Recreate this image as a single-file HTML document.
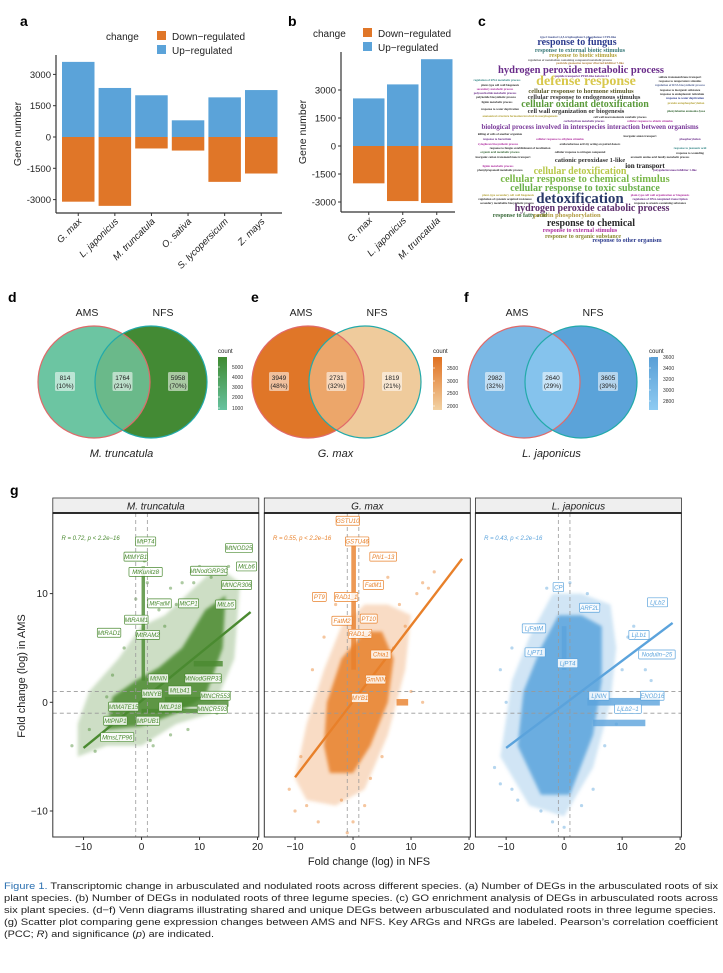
<!DOCTYPE html>
<html><head><meta charset="utf-8">
<style>
html,body{margin:0;padding:0;background:#fff;}
svg{display:block;font-family:"Liberation Sans",sans-serif;}
.wc{font-family:"Liberation Serif",serif;font-weight:bold;text-anchor:middle;}
.tick{font-size:9px;fill:#222;}
</style></head>
<body>
<svg id="fig" width="723" height="973" viewBox="0 0 723 973" xmlns="http://www.w3.org/2000/svg">
<defs>
<linearGradient id="gd" x1="0" y1="0" x2="0" y2="1"><stop offset="0" stop-color="#3f8a30"/><stop offset="1" stop-color="#66c2a0"/></linearGradient>
<linearGradient id="ge" x1="0" y1="0" x2="0" y2="1"><stop offset="0" stop-color="#e07020"/><stop offset="1" stop-color="#f2d2a4"/></linearGradient>
<linearGradient id="gf" x1="0" y1="0" x2="0" y2="1"><stop offset="0" stop-color="#5a9fd6"/><stop offset="1" stop-color="#8ecbf2"/></linearGradient>
<filter id="blur"><feGaussianBlur stdDeviation="1.6"/></filter>
</defs>

<!-- panel labels -->
<text x="20" y="26" font-size="14" font-weight="bold">a</text>
<text x="288" y="26" font-size="14" font-weight="bold">b</text>
<text x="478" y="26" font-size="14" font-weight="bold">c</text>
<text x="8" y="302" font-size="14" font-weight="bold">d</text>
<text x="251" y="302" font-size="14" font-weight="bold">e</text>
<text x="464" y="302" font-size="14" font-weight="bold">f</text>
<text x="10" y="495" font-size="14" font-weight="bold">g</text>

<g id="barA"></g>
<g id="barB"></g>

<!-- legends a & b -->
<g font-size="10">
<text x="106" y="40" fill="#222">change</text>
<rect x="157" y="31" width="9" height="9" fill="#e07628"/>
<text x="172" y="40" fill="#222">Down−regulated</text>
<rect x="157" y="45" width="9" height="9" fill="#5ba3d9"/>
<text x="172" y="54" fill="#222">Up−regulated</text>
</g>
<g font-size="10">
<text x="313" y="37" fill="#222">change</text>
<rect x="363" y="28" width="9" height="9" fill="#e07628"/>
<text x="378" y="37" fill="#222">Down−regulated</text>
<rect x="363" y="42" width="9" height="9" fill="#5ba3d9"/>
<text x="378" y="51" fill="#222">Up−regulated</text>
</g>

<!-- word cloud -->
<g id="cloud"></g>

<g id="venns"></g>

<g id="scatter"></g>

<!-- caption -->
<g font-size="9.3" fill="#222" font-family="'Liberation Sans Narrow','Liberation Sans',sans-serif">
<text x="4" y="889" textLength="714" lengthAdjust="spacingAndGlyphs"><tspan fill="#2a6fb0">Figure 1.</tspan> Transcriptomic change in arbusculated and nodulated roots across different species. (a) Number of DEGs in the arbusculated roots of six</text>
<text x="4" y="901" textLength="714" lengthAdjust="spacingAndGlyphs">plant species. (b) Number of DEGs in nodulated roots of three legume species. (c) GO enrichment analysis of DEGs in arbusculated roots across</text>
<text x="4" y="913" textLength="712" lengthAdjust="spacingAndGlyphs">six plant species. (d−f) Venn diagrams illustrating shared and unique DEGs between arbusculated and nodulated roots in three legume species.</text>
<text x="4" y="925" textLength="714" lengthAdjust="spacingAndGlyphs">(g) Scatter plot comparing gene expression changes between AMS and NFS. Key ARGs and NRGs are labeled. Pearson’s correlation coefficient</text>
<text x="4" y="937" textLength="210" lengthAdjust="spacingAndGlyphs">(PCC; <tspan font-style="italic">R</tspan>) and significance (<tspan font-style="italic">p</tspan>) are indicated.</text>
</g>
</svg>

<script>
const NS="http://www.w3.org/2000/svg";
function mk(tag,attrs,parent,txt){const e=document.createElementNS(NS,tag);for(const k in attrs)e.setAttribute(k,attrs[k]);if(txt!==undefined)e.textContent=txt;parent.appendChild(e);return e;}

// ---------- Panel a / b data ----------
const speciesA=["G. max","L. japonicus","M. truncatula","O. sativa","S. lycopersicum","Z. mays"];
const upA=[3600,2350,2000,800,1900,2250];
const downA=[-3100,-3300,-550,-650,-2150,-1750];
const ticksAB=[3000,1500,0,-1500,-3000];
const speciesB=["G. max","L. japonicus","M. truncatula"];
const upB=[2550,3300,4650];
const downB=[-2000,-2950,-3050];

function barChart(g,cats,up,down,o){
  const y=v=>o.y0-v*o.ppu;
  mk('line',{x1:o.ax,y1:o.top,x2:o.ax,y2:o.bot,stroke:'#333','stroke-width':1.2},g);
  mk('line',{x1:o.ax,y1:o.bot,x2:o.right,y2:o.bot,stroke:'#333','stroke-width':1.2},g);
  ticksAB.forEach(t=>{
    const tk=mk('line',{x1:o.ax-3,y1:y(t),x2:o.ax,y2:y(t),stroke:'#333'},g);
    const lb=mk('text',{x:o.ax-5,y:y(t)+3.5,'text-anchor':'end','font-size':9.5,fill:'#222'},g,t===0?'0':(t<0?'-'+Math.abs(t):String(t)));
    
    
  });
  const t=mk('text',{x:0,y:0,'font-size':10.5,fill:'#222','text-anchor':'middle',transform:`translate(${o.ax-35},${(o.top+o.bot)/2}) rotate(-90)`},g,'Gene number');
  
  
  cats.forEach((c,i)=>{
    const x=o.x0+i*o.step;
    const bu=mk('rect',{x:x,y:y(up[i]),width:o.bw,height:y(0)-y(up[i]),fill:'#5ba3d9'},g);
    
    
    const bd=mk('rect',{x:x,y:y(0),width:o.bw,height:y(down[i])-y(0),fill:'#e07628'},g);
    
    
    const cx=x+o.bw/2;
    mk('line',{x1:cx,y1:o.bot,x2:cx,y2:o.bot+3,stroke:'#333'},g);
    const l=mk('text',{x:0,y:0,'font-size':9.5,'font-style':'italic',fill:'#222','text-anchor':'end',transform:`translate(${cx+4},${o.bot+9}) rotate(-45)`},g,c);
    
    
  });
}
barChart(document.getElementById('barA'),speciesA,upA,downA,{ax:56,top:55,bot:213,right:282,y0:137,ppu:31.3/1500,x0:62,step:36.6,bw:32.5});
barChart(document.getElementById('barB'),speciesB,upB,downB,{ax:341,top:52,bot:212,right:455,y0:146,ppu:28/1500,x0:353,step:34,bw:31.5});

// ---------- Word cloud ----------
const cloudWords=[
 ["response to fungus",577,45,10,"#2d3c8e"],
 ["response to external biotic stimulus",580,52,6,"#3a7a7a"],
 ["response to biotic stimulus",583,57,6,"#b5a33a"],
 ["hydrogen peroxide metabolic process",581,73,10.5,"#6a2c8a"],
 ["defense response",586,85,14,"#d8c84c"],
 ["cellular response to hormone stimulus",581,93,6.5,"#5a5a2a"],
 ["cellular response to endogenous stimulus",584,99,6.5,"#3a3a3a"],
 ["cellular oxidant detoxification",585,107,10,"#5a9a3a"],
 ["cell wall organization or biogenesis",576,113,6.5,"#333"],
 ["biological process involved in interspecies interaction between organisms",590,129,7,"#7a3a9a"],
 ["cationic peroxidase 1-like",590,162,6.5,"#333"],
 ["ion transport",645,168,7,"#222"],
 ["cellular detoxification",580,174,10,"#b8c84a"],
 ["cellular response to chemical stimulus",585,182,10.5,"#7ab84a"],
 ["cellular response to toxic substance",585,191,10,"#6ab04a"],
 ["detoxification",580,203,15,"#2a3a6a"],
 ["hydrogen peroxide catabolic process",592,211,10,"#5a2a6a"],
 ["response to fatty acid",520,217,6,"#3a6a3a"],
 ["protein phosphorylation",567,217,6.5,"#b09a40"],
 ["response to chemical",591,226,10,"#2a2a2a"],
 ["response to external stimulus",580,232,6,"#b030a0"],
 ["response to organic substance",583,238,6,"#8a8a30"],
 ["response to other organism",627,242,6,"#2d3c8e"]
];
const cloudFiller=[
 ["type I inositol 1,4,5-trisphosphate 5-phosphatase CVP2-like",578,38,3,"#3a4a8a"],
 ["regulation of metabolism containing compound metabolic process",570,61,3,"#666"],
 ["pesticide guanosine receptor diverted inhibitor 7-like",590,64,3,"#b08040"],
 ["peptide transporter PTR3-like isoform X1",582,77,3,"#6a2c8a"],
 ["regulation of RNA metabolic process",497,81,3,"#3a8a8a"],
 ["sulfate transmembrane transport",680,78,3,"#333"],
 ["response to temperature stimulus",680,82,3,"#3a3a3a"],
 ["plant-type cell wall biogenesis",500,86,3,"#333"],
 ["regulation of RNA biosynthetic process",680,86,3,"#5a6a9a"],
 ["secondary metabolic process",495,90,3,"#b030a0"],
 ["response to inorganic substance",680,91,3,"#333"],
 ["polysaccharide metabolic process",495,94,3,"#6a2c8a"],
 ["response to endoplasmic reticulum",682,95,3,"#333"],
 ["polyketide biosynthetic process",496,98,3,"#333"],
 ["response to water deprivation",685,99,3,"#2d3c8e"],
 ["lignin metabolic process",497,103,3,"#333"],
 ["protein autophosphorylation",686,104,3,"#b5a33a"],
 ["response to water deprivation",500,110,3,"#333"],
 ["phenylalanine ammonia-lyase",686,112,3,"#3a6a3a"],
 ["anatomical structure formation involved in morphogenesis",520,117,3,"#b5a33a"],
 ["cell wall macromolecule catabolic process",620,118,3,"#333"],
 ["carbohydrate metabolic process",584,122,3,"#6a2c8a"],
 ["cellular response to abiotic stimulus",650,122,3,"#b030a0"],
 ["killing of cells of another organism",500,135,3,"#333"],
 ["inorganic anion transport",640,137,3,"#333"],
 ["response to bacterium",497,140,3,"#6a2c8a"],
 ["cellular response to ethylene stimulus",560,140,3,"#b030a0"],
 ["phosphorylation",690,140,3,"#6a2c8a"],
 ["xyloglucan biosynthetic process",498,145,3,"#b030a0"],
 ["oxidoreductase activity acting on paired donors",590,145,3,"#333"],
 ["response to fungus establishment of localization",520,149,3,"#333"],
 ["response to jasmonic acid",690,149,3,"#3a8a8a"],
 ["organic acid metabolic process",500,153,3,"#3a6a3a"],
 ["cellular response to nitrogen compound",580,153,3,"#333"],
 ["response to wounding",690,154,3,"#333"],
 ["inorganic cation transmembrane transport",503,158,3,"#333"],
 ["aromatic amino acid family metabolic process",660,158,3,"#333"],
 ["lignin metabolic process",498,167,3,"#b030a0"],
 ["phenylpropanoid metabolic process",500,171,3,"#333"],
 ["polygalacturonase inhibitor 1-like",675,171,3,"#6a2c8a"],
 ["plant-type secondary cell wall biogenesis",508,196,3,"#b5a33a"],
 ["plant-type cell wall organization or biogenesis",660,196,3,"#b030a0"],
 ["regulation of systemic acquired resistance",505,200,3,"#333"],
 ["regulation of DNA-templated transcription",660,200,3,"#6a2c8a"],
 ["secondary metabolite biosynthetic process",507,204,3,"#333"],
 ["response to arsenic-containing substance",660,204,3,"#333"]
];
(function(){
  const g=document.getElementById('cloud');
  cloudFiller.concat(cloudWords).forEach(w=>{
    const t=mk('text',{x:w[1],y:w[2],'font-size':w[3],fill:w[4],class:'wc'},g,w[0]);
    
    
  });
})();

// ---------- Venn diagrams ----------
const vennSpecies=["M. truncatula","G. max","L. japonicus"];
const vennAms=["814","3949","2982"];
const vennShared=["1764","2731","2640"];
const vennNfs=["5958","1819","3605"];
const vennAmsPct=["(10%)","(48%)","(32%)"];
const vennSharedPct=["(21%)","(32%)","(29%)"];
const vennNfsPct=["(70%)","(21%)","(39%)"];
const vennTicks=[["5000","4000","3000","2000","1000"],["3500","3000","2500","2000"],["3600","3400","3200","3000","2800"]];
(function(){
  const g=document.getElementById('venns');
  const cfg=[
   {cx:94,cl:['#6cc5a2','#438a34','#6ab98a'],grad:'url(#gd)',lx:218,ty:[367,377,387,397,408]},
   {cx:308,cl:['#e07628','#efcb9c','#eca66a'],grad:'url(#ge)',lx:433,ty:[368,381,393,406]},
   {cx:524,cl:['#7ab8e5','#5ba3d9','#85c3ed'],grad:'url(#gf)',lx:649,ty:[357,368,379,390,401]}
  ];
  cfg.forEach((c,i)=>{
    const d=57,r=56,cy=382;
    const vg=mk('g',{},g);
    
    
    const cid='clip'+i;
    const cp=mk('clipPath',{id:cid},vg);mk('ellipse',{cx:c.cx,cy:cy,rx:r,ry:r},cp);
    mk('ellipse',{cx:c.cx,cy:cy,rx:r,ry:r,fill:c.cl[0]},vg);
    mk('ellipse',{cx:c.cx+d,cy:cy,rx:r,ry:r,fill:c.cl[1]},vg);
    mk('ellipse',{cx:c.cx+d,cy:cy,rx:r,ry:r,fill:c.cl[2],'clip-path':`url(#${cid})`},vg);
    mk('ellipse',{cx:c.cx,cy:cy,rx:r,ry:r,fill:'none',stroke:'#e06a6a','stroke-width':1.2},vg);
    mk('ellipse',{cx:c.cx+d,cy:cy,rx:r,ry:r,fill:'none',stroke:'#22aaaa','stroke-width':1.2},vg);
    const sa=mk('text',{x:c.cx-7,y:316,'font-size':10.5,'text-anchor':'middle',fill:'#222'},vg,'AMS');
    
    
    const sn=mk('text',{x:c.cx+d+12,y:316,'font-size':10.5,'text-anchor':'middle',fill:'#222'},vg,'NFS');
    
    
    const pos=[[c.cx-29,vennAms[i],vennAmsPct[i]],[c.cx+d/2,vennShared[i],vennSharedPct[i]],[c.cx+d+27,vennNfs[i],vennNfsPct[i]]];
    pos.forEach(p=>{
      mk('rect',{x:p[0]-10,y:cy-10,width:20,height:19,rx:1.5,fill:'#fff','fill-opacity':0.55},vg);
      const a=mk('text',{x:p[0],y:cy-2,'font-size':6.5,'text-anchor':'middle',fill:'#222'},vg,p[1]);
      
      
      mk('text',{x:p[0],y:cy+6,'font-size':6.5,'text-anchor':'middle',fill:'#222'},vg,p[2]);
    });
    const sp=mk('text',{x:c.cx+d/2-1,y:457,'font-size':11,'font-style':'italic','text-anchor':'middle',fill:'#222'},vg,vennSpecies[i]);
    
    
    mk('text',{x:c.lx,y:353,'font-size':6,fill:'#222'},vg,'count');
    const lb=mk('rect',{x:c.lx,y:357,width:9,height:53,fill:c.grad},vg);
    
    
    vennTicks[i].forEach((t,k)=>{
      mk('text',{x:c.lx+14,y:c.ty[k]+2,'font-size':5,fill:'#333'},vg,t);
      mk('line',{x1:c.lx,x2:c.lx+2,y1:c.ty[k],y2:c.ty[k],stroke:'#fff','stroke-width':0.6},vg);
    });
  });
})();

// ---------- Panel g scatter ----------
const panelNames=["M. truncatula","G. max","L. japonicus"];
const panelColors=["#4a8a30","#e8802a","#5ba3dc"];
const rText=["R = 0.72, p < 2.2e−16","R = 0.55, p < 2.2e−16","R = 0.43, p < 2.2e−16"];
const regLines=[[-10,-4.2,18.8,8.3],[-10,-6.9,18.8,13.2],[-10,-4.2,18.7,7.3]];
const haloMt=[[-11,-5],[-6,-4],[0,-4],[6,-2],[12,-1],[16,4],[17,11],[13,12.5],[8,10],[4,8],[0,7],[-4,4],[-9,1],[-11,-2]];
const coreMt=[[-6,-2.5],[0,-2.2],[6,-1],[11,0.5],[14,5],[14.5,9.8],[11,8.5],[7,5],[3,3.2],[-1,2],[-5,0.5]];
const haloGm=[[-8,-9],[-3,-9.5],[2,-8],[6,-3],[9,3],[10,8],[6,9],[2,9],[-2,7],[-5,3],[-8,-2],[-10,-7]];
const coreGm=[[-4,-6.5],[0,-6.5],[3,-4],[6,0],[7,4],[5,6.5],[2,6.5],[-2,4],[-4.5,0],[-5,-4]];
const haloLj=[[-11,-5],[-6,-9.5],[0,-10.5],[5,-6],[8,0],[9,5],[8,9],[3,10],[-2,10],[-6,6],[-9,2]];
const coreLj=[[-8,-4],[-4,-8.5],[1,-8.5],[5,-3],[6.5,2],[6.5,7],[3,8],[-1,8],[-4,5],[-7,1]];
const streaks=[
 [[0,2,0.6,12.5],[4,-0.4,15,0.5],[9,3.3,14,3.8],[0,-1,12,-0.6]],
 [[-0.3,3,0.5,14.5],[7.5,-0.3,9.5,0.3]],
 [[4,-0.3,16.5,0.4],[5,-2.2,14,-1.6],[-0.4,3,0.4,7]]
];
const ptsMt=[[-12,-4],[-9,-2.5],[-8,-4.5],[-6,0.5],[-5,2.5],[-3,5],[-2,7.5],[-1,9.5],[1,11],[2,6],[3,8.5],[4,7],[6,9],[7,11],[9,11],[10,12.5],[12,11.5],[15,12.5],[16,10.5],[2,-4],[5,-3],[8,-2.5],[13,-1],[1.5,-3.5],[-4,-3.5],[3,12],[0.5,13],[5,10.5]];
const ptsGm=[[-10,-10],[-8,-9.5],[-6,-11],[-2,-9],[0,-11],[2,-9.5],[-1,-12],[3,-7],[5,-5],[7,5],[8,9],[9,7],[11,10],[12,11],[13,10.5],[14,12],[-7,3],[-5,6],[-3,9],[4,11],[6,11.5],[10,1],[12,0],[-9,-5],[-11,-8]];
const ptsLj=[[-12,-6],[-11,-7.5],[-9,-8],[-8,-9],[-4,-10],[-2,-11],[0,-11.5],[3,-9.5],[5,-8],[7,-4],[9,-2],[10,3],[11,6],[12,7],[14,3],[15,2],[-10,0],[-11,3],[-9,5],[-7,7],[1,11],[4,10],[6,9],[-3,10.5]];
const labelsMt=[["MtPT4",0.7,14.8],["MtMYB1",-1,13.4],["MtKunitz8",0.7,12.0],["MtNOD25",16.8,14.2],["MtLb6",18.1,12.5],["MtNodGRP3C",11.6,12.1],["MtNCR306",16.4,10.8],["MtLb5",14.5,9.0],["MtFatM",3.1,9.1],["MtCP1",8.1,9.1],["MtRAM1",-0.9,7.6],["MtRAD1",-5.6,6.4],["MtRAM2",1.1,6.2],["MtNIN",2.9,2.2],["MtNodGRP33",10.6,2.2],["MtNYB",1.8,0.8],["MtLb41",6.6,1.1],["MtNCR553",12.7,0.6],["MtMATE15",-3.1,-0.4],["MtLP18",5.0,-0.4],["MtNCR593",12.2,-0.6],["MtPNP1",-4.5,-1.7],["MtPUB1",1.1,-1.7],["MtnsLTP96",-4.2,-3.2]];
const labelsGm=[["GSTU10",-0.9,16.7],["GSTU46",0.7,14.8],["Phi1−13",5.2,13.4],["FatM1",3.5,10.8],["PT9",-5.8,9.7],["RAD1_1",-1.2,9.7],["FatM2",-1.9,7.5],["PT10",2.7,7.7],["RAD1_2",1.2,6.3],["Chia1",4.8,4.4],["GmNIN",3.9,2.1],["MYB1",1.2,0.4]];
const labelsLj=[["CP",-1.0,10.6],["LjLb2",16.1,9.2],["ARF2L",4.4,8.7],["LjFatM",-5.2,6.8],["LjLb1",12.9,6.2],["LjPT1",-5.0,4.6],["Nodulin−25",16.0,4.4],["LjPT4",0.6,3.6],["LjNIN",6.0,0.6],["ENOD16",15.2,0.6],["LjLb2−1",11.0,-0.6]];
const xTicks=[-10,0,10,20];
const yTicks=[10,0,-10];

(function(){
  const g=document.getElementById('scatter');
  const lefts=[52.8,264.3,475.4],W=206,top=513,bot=837;
  const halos=[haloMt,haloGm,haloLj],cores=[coreMt,coreGm,coreLj],pts=[ptsMt,ptsGm,ptsLj],labs=[labelsMt,labelsGm,labelsLj];
  lefts.forEach((L,i)=>{
    const X=d=>L+(d+15.3)*5.8, Y=d=>702.3-d*10.87;
    const pg=mk('g',{},g);
    
    
    const cid='pclip'+i;
    const cp=mk('clipPath',{id:cid},pg);mk('rect',{x:L,y:top,width:W,height:bot-top},cp);
    const inner=mk('g',{'clip-path':`url(#${cid})`},pg);
    const col=panelColors[i];
    const poly=a=>a.map(p=>X(p[0]).toFixed(1)+','+Y(p[1]).toFixed(1)).join(' ');
    const h=mk('polygon',{points:poly(halos[i]),fill:col,'fill-opacity':0.28,filter:'url(#blur)'},inner);
    
    
    const c=mk('polygon',{points:poly(cores[i]),fill:col,'fill-opacity':0.85,filter:'url(#blur)'},inner);
    
    
    streaks[i].forEach(s=>{
      const r=mk('rect',{x:X(s[0]),y:Y(s[3]),width:X(s[2])-X(s[0]),height:Y(s[1])-Y(s[3]),fill:col,'fill-opacity':0.8},inner);
      
      
    });
    pts[i].forEach(p=>{
      const d=mk('circle',{cx:X(p[0]),cy:Y(p[1]),r:1.6,fill:col,'fill-opacity':0.45},inner);
      
      
    });
    // dashed reference lines
    [-1,1].forEach(v=>{
      mk('line',{x1:X(v),x2:X(v),y1:top,y2:bot,stroke:'#999','stroke-dasharray':'4,3','stroke-width':0.8},inner);
      mk('line',{x1:L,x2:L+W,y1:Y(v),y2:Y(v),stroke:'#999','stroke-dasharray':'4,3','stroke-width':0.8},inner);
    });
    const rl=regLines[i];
    const ln=mk('line',{x1:X(rl[0]),y1:Y(rl[1]),x2:X(rl[2]),y2:Y(rl[3]),stroke:col,'stroke-width':2.4},inner);
    
    
    labs[i].forEach(l=>{
      const w=l[0].length*3.25+4;
      mk('rect',{x:X(l[1])-w/2,y:Y(l[2])-4.5,width:w,height:9,fill:'#fff','fill-opacity':0.85,stroke:col,'stroke-width':0.7,rx:0.8},inner);
      const t=mk('text',{x:X(l[1]),y:Y(l[2])+2.2,'font-size':6,'font-style':'italic','text-anchor':'middle',fill:col},inner,l[0]);
      
      
    });
    const rt=mk('text',{x:X(-13.8),y:Y(15.1)+2,'font-size':6,'font-style':'italic',fill:col},pg,rText[i]);
    
    
    // frame & strip
    mk('rect',{x:L,y:top,width:W,height:bot-top,fill:'none',stroke:'#333','stroke-width':1},pg);
    const st=mk('rect',{x:L,y:498,width:W,height:15,fill:'#efefef',stroke:'#333','stroke-width':0.8},pg);
    
    
    mk('line',{x1:L,x2:L+W,y1:513,y2:513,stroke:'#111','stroke-width':1.8},pg);
    const sn=mk('text',{x:L+W/2,y:509.5,'font-size':10,'font-style':'italic','text-anchor':'middle',fill:'#222'},pg,panelNames[i]);
    
    
    xTicks.forEach(t=>{
      mk('line',{x1:X(t),x2:X(t),y1:bot,y2:bot+3,stroke:'#333'},pg);
      const tl=mk('text',{x:X(t),y:bot+13,'font-size':10,'text-anchor':'middle',fill:'#222'},pg,t<0?'−'+Math.abs(t):String(t));
      
      
    });
    if(i===0){
      yTicks.forEach(t=>{
        mk('line',{x1:L-3,x2:L,y1:Y(t),y2:Y(t),stroke:'#333'},pg);
        const yl=mk('text',{x:L-5,y:Y(t)+3.5,'font-size':10,'text-anchor':'end',fill:'#222'},pg,t<0?'−'+Math.abs(t):String(t));
        
        
      });
    }
  });
  const xt=mk('text',{x:369,y:865,'font-size':11,'text-anchor':'middle',fill:'#222'},g,'Fold change (log) in NFS');
  
  
  const yt=mk('text',{x:0,y:0,'font-size':11,'text-anchor':'middle',fill:'#222',transform:'translate(25,676) rotate(-90)'},g,'Fold change (log) in AMS');
  
  
})();
</script>
</body></html>
